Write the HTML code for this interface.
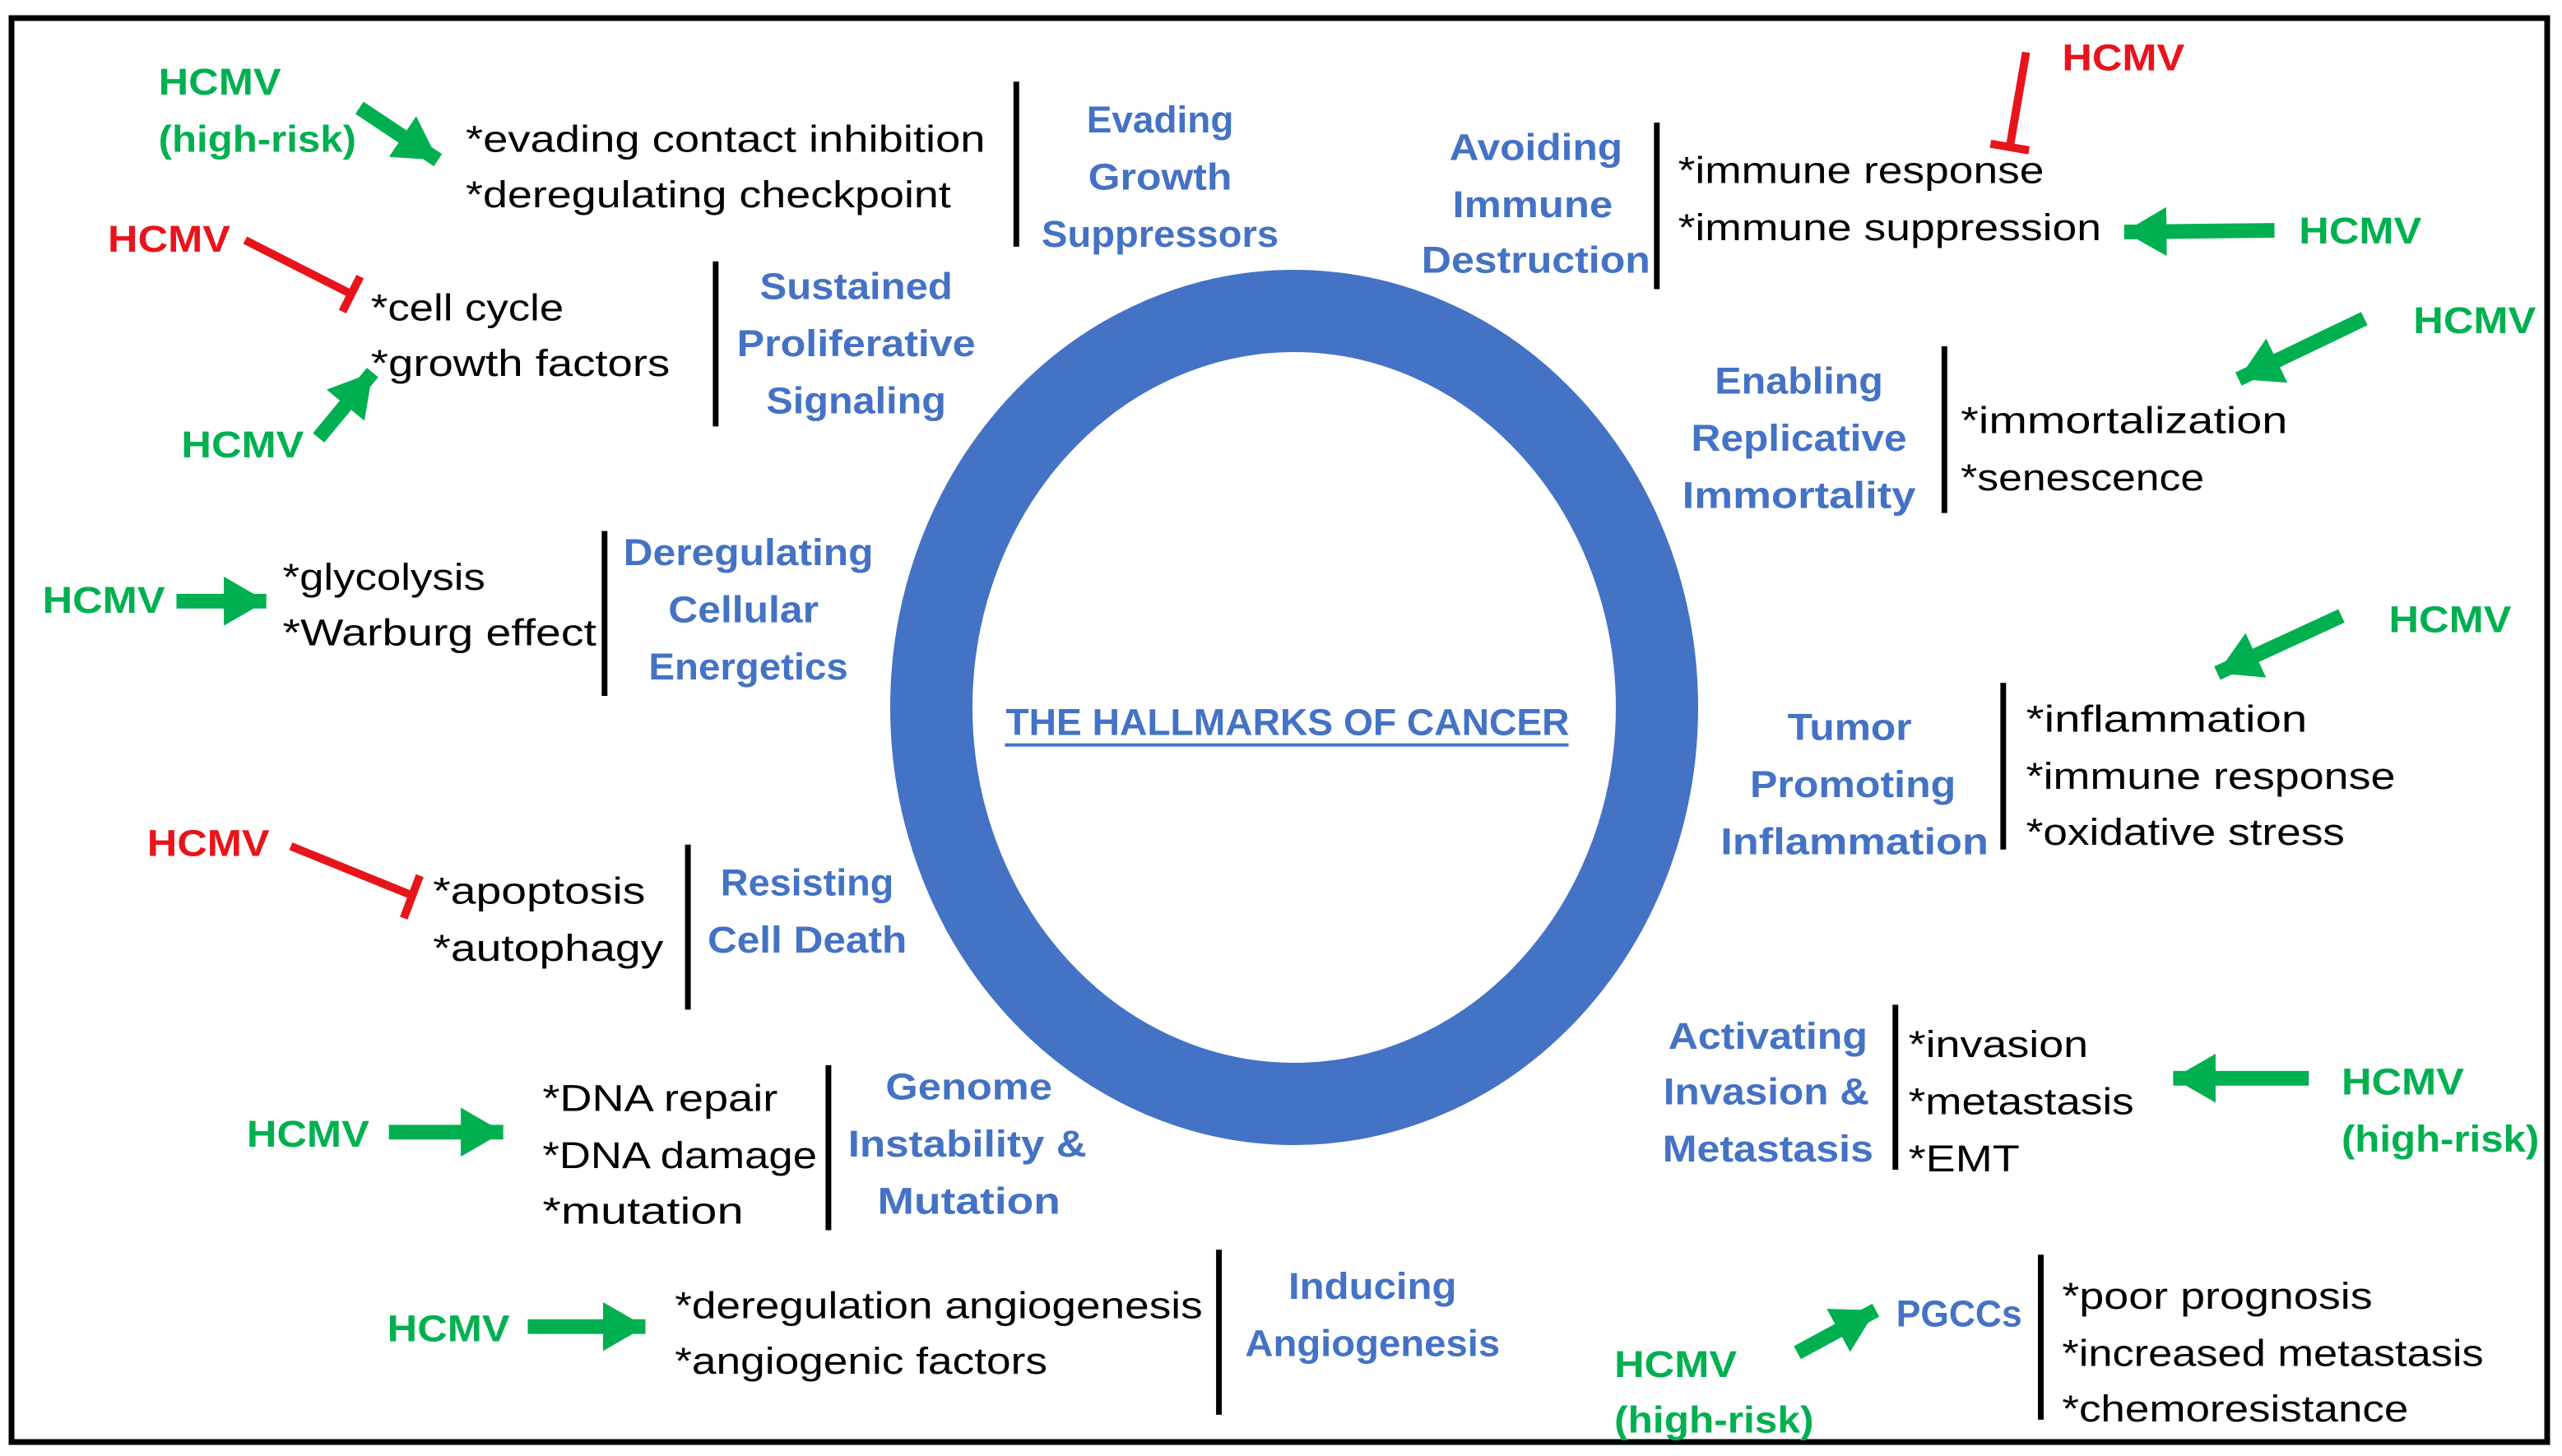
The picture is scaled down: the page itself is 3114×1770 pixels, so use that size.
<!DOCTYPE html>
<html><head><meta charset="utf-8"><style>
html,body{margin:0;padding:0;background:#fff;}
svg{display:block}
text{font-family:"Liberation Sans",sans-serif;}
.k{fill:#000;font-size:23px;}
.b{fill:#4472C4;font-size:23px;font-weight:bold;text-anchor:middle;}
.g{fill:#00B050;font-size:23px;font-weight:bold;}
.r{fill:#E8141B;font-size:23px;font-weight:bold;}
.bar{stroke:#000;stroke-width:3.5;}
.ga{stroke:#00B050;stroke-width:9;marker-end:url(#ah);}
.ri{stroke:#E8141B;stroke-width:5;}
</style></head><body>
<svg width="3114" height="1770" viewBox="0 0 1557 885" xmlns="http://www.w3.org/2000/svg">
<defs>
<marker id="ah" markerUnits="userSpaceOnUse" markerWidth="34" markerHeight="34" refX="26" refY="15" orient="auto">
<path d="M0,0 L26,15 L0,30 Z" fill="#00B050"/>
</marker>
</defs>
<rect x="0" y="0" width="1557" height="885" fill="#fff"/>
<rect x="7" y="11" width="1541" height="865.5" fill="none" stroke="#000" stroke-width="3.5"/>
<ellipse cx="786.5" cy="430" rx="220.5" ry="241" fill="none" stroke="#4472C4" stroke-width="50"/>
<g transform="scale(0.993)">
<text class="b" x="788" y="450" textLength="345" lengthAdjust="spacingAndGlyphs">THE HALLMARKS OF CANCER</text>
<line x1="615" y1="456" x2="960" y2="456" stroke="#4472C4" stroke-width="2"/>

<text class="g" x="97" y="58" textLength="75" lengthAdjust="spacingAndGlyphs">HCMV</text>
<text class="g" x="97" y="93" textLength="121" lengthAdjust="spacingAndGlyphs">(high-risk)</text>
<line class="ga" x1="220" y1="66" x2="268" y2="98"/>
<text class="k" x="285" y="93" textLength="318" lengthAdjust="spacingAndGlyphs">*evading contact inhibition</text>
<text class="k" x="285" y="127" textLength="297" lengthAdjust="spacingAndGlyphs">*deregulating checkpoint</text>
<line class="bar" x1="622" y1="50" x2="622" y2="151"/>
<text class="b" x="710" y="81" textLength="90" lengthAdjust="spacingAndGlyphs">Evading</text>
<text class="b" x="710" y="116" textLength="88" lengthAdjust="spacingAndGlyphs">Growth</text>
<text class="b" x="710" y="151" textLength="145" lengthAdjust="spacingAndGlyphs">Suppressors</text>

<text class="r" x="66" y="154" textLength="75" lengthAdjust="spacingAndGlyphs">HCMV</text>
<line class="ri" x1="150" y1="147" x2="215" y2="180"/>
<line class="ri" x1="220.4" y1="169.3" x2="209.6" y2="190.7"/>
<text class="k" x="227" y="196" textLength="118" lengthAdjust="spacingAndGlyphs">*cell cycle</text>
<text class="k" x="227" y="230" textLength="183" lengthAdjust="spacingAndGlyphs">*growth factors</text>
<line class="bar" x1="438" y1="160" x2="438" y2="261"/>
<text class="b" x="524" y="183" textLength="118" lengthAdjust="spacingAndGlyphs">Sustained</text>
<text class="b" x="524" y="218" textLength="146" lengthAdjust="spacingAndGlyphs">Proliferative</text>
<text class="b" x="524" y="253" textLength="110" lengthAdjust="spacingAndGlyphs">Signaling</text>
<text class="g" x="111" y="280" textLength="75" lengthAdjust="spacingAndGlyphs">HCMV</text>
<line class="ga" x1="195" y1="268" x2="228" y2="228"/>

<text class="g" x="26" y="375" textLength="75" lengthAdjust="spacingAndGlyphs">HCMV</text>
<line class="ga" x1="108" y1="368" x2="163" y2="368"/>
<text class="k" x="173" y="361" textLength="124" lengthAdjust="spacingAndGlyphs">*glycolysis</text>
<text class="k" x="173" y="395" textLength="192" lengthAdjust="spacingAndGlyphs">*Warburg effect</text>
<line class="bar" x1="370" y1="325" x2="370" y2="426"/>
<text class="b" x="458" y="346" textLength="153" lengthAdjust="spacingAndGlyphs">Deregulating</text>
<text class="b" x="455" y="381" textLength="92" lengthAdjust="spacingAndGlyphs">Cellular</text>
<text class="b" x="458" y="416" textLength="122" lengthAdjust="spacingAndGlyphs">Energetics</text>

<text class="r" x="90" y="524" textLength="75" lengthAdjust="spacingAndGlyphs">HCMV</text>
<line class="ri" x1="178" y1="518" x2="252" y2="548"/>
<line class="ri" x1="256.9" y1="536" x2="247.1" y2="562"/>
<text class="k" x="265" y="553" textLength="130" lengthAdjust="spacingAndGlyphs">*apoptosis</text>
<text class="k" x="265" y="588" textLength="141" lengthAdjust="spacingAndGlyphs">*autophagy</text>
<line class="bar" x1="421" y1="517" x2="421" y2="618"/>
<text class="b" x="494" y="548" textLength="106" lengthAdjust="spacingAndGlyphs">Resisting</text>
<text class="b" x="494" y="583" textLength="122" lengthAdjust="spacingAndGlyphs">Cell Death</text>

<text class="g" x="151" y="702" textLength="75" lengthAdjust="spacingAndGlyphs">HCMV</text>
<line class="ga" x1="238" y1="693" x2="308" y2="693"/>
<text class="k" x="332" y="680" textLength="144" lengthAdjust="spacingAndGlyphs">*DNA repair</text>
<text class="k" x="332" y="715" textLength="168" lengthAdjust="spacingAndGlyphs">*DNA damage</text>
<text class="k" x="332" y="749" textLength="123" lengthAdjust="spacingAndGlyphs">*mutation</text>
<line class="bar" x1="507" y1="652" x2="507" y2="753"/>
<text class="b" x="593" y="673" textLength="102" lengthAdjust="spacingAndGlyphs">Genome</text>
<text class="b" x="592" y="708" textLength="146" lengthAdjust="spacingAndGlyphs">Instability &amp;</text>
<text class="b" x="593" y="743" textLength="112" lengthAdjust="spacingAndGlyphs">Mutation</text>

<text class="g" x="237" y="821" textLength="75" lengthAdjust="spacingAndGlyphs">HCMV</text>
<line class="ga" x1="323" y1="812" x2="395" y2="812"/>
<text class="k" x="413" y="807" textLength="323" lengthAdjust="spacingAndGlyphs">*deregulation angiogenesis</text>
<text class="k" x="413" y="841" textLength="228" lengthAdjust="spacingAndGlyphs">*angiogenic factors</text>
<line class="bar" x1="746" y1="765" x2="746" y2="866"/>
<text class="b" x="840" y="795" textLength="103" lengthAdjust="spacingAndGlyphs">Inducing</text>
<text class="b" x="840" y="830" textLength="156" lengthAdjust="spacingAndGlyphs">Angiogenesis</text>

<text class="b" x="940" y="98" textLength="106" lengthAdjust="spacingAndGlyphs">Avoiding</text>
<text class="b" x="938" y="133" textLength="98" lengthAdjust="spacingAndGlyphs">Immune</text>
<text class="b" x="940" y="167" textLength="140" lengthAdjust="spacingAndGlyphs">Destruction</text>
<line class="bar" x1="1014" y1="75" x2="1014" y2="177"/>
<text class="k" x="1027" y="112" textLength="224" lengthAdjust="spacingAndGlyphs">*immune response</text>
<text class="k" x="1027" y="147" textLength="259" lengthAdjust="spacingAndGlyphs">*immune suppression</text>
<text class="r" x="1262" y="43" textLength="75" lengthAdjust="spacingAndGlyphs">HCMV</text>
<line class="ri" x1="1240" y1="32" x2="1230" y2="90"/>
<line class="ri" x1="1241.8" y1="92" x2="1218.2" y2="88"/>
<text class="g" x="1407" y="149" textLength="75" lengthAdjust="spacingAndGlyphs">HCMV</text>
<line class="ga" x1="1392" y1="141" x2="1300" y2="142"/>

<text class="b" x="1101" y="241" textLength="103" lengthAdjust="spacingAndGlyphs">Enabling</text>
<text class="b" x="1101" y="276" textLength="132" lengthAdjust="spacingAndGlyphs">Replicative</text>
<text class="b" x="1101" y="311" textLength="143" lengthAdjust="spacingAndGlyphs">Immortality</text>
<line class="bar" x1="1190" y1="212" x2="1190" y2="314"/>
<text class="k" x="1200" y="265" textLength="200" lengthAdjust="spacingAndGlyphs">*immortalization</text>
<text class="k" x="1200" y="300" textLength="149" lengthAdjust="spacingAndGlyphs">*senescence</text>
<text class="g" x="1477" y="204" textLength="75" lengthAdjust="spacingAndGlyphs">HCMV</text>
<line class="ga" x1="1447" y1="195" x2="1370" y2="232"/>

<text class="g" x="1462" y="387" textLength="75" lengthAdjust="spacingAndGlyphs">HCMV</text>
<line class="ga" x1="1433" y1="377" x2="1357" y2="412"/>
<text class="b" x="1132" y="453" textLength="76" lengthAdjust="spacingAndGlyphs">Tumor</text>
<text class="b" x="1134" y="488" textLength="126" lengthAdjust="spacingAndGlyphs">Promoting</text>
<text class="b" x="1135" y="523" textLength="164" lengthAdjust="spacingAndGlyphs">Inflammation</text>
<line class="bar" x1="1226" y1="418" x2="1226" y2="520"/>
<text class="k" x="1240" y="448" textLength="172" lengthAdjust="spacingAndGlyphs">*inflammation</text>
<text class="k" x="1240" y="483" textLength="226" lengthAdjust="spacingAndGlyphs">*immune response</text>
<text class="k" x="1240" y="517" textLength="195" lengthAdjust="spacingAndGlyphs">*oxidative stress</text>

<text class="b" x="1082" y="642" textLength="122" lengthAdjust="spacingAndGlyphs">Activating</text>
<text class="b" x="1081" y="676" textLength="126" lengthAdjust="spacingAndGlyphs">Invasion &amp;</text>
<text class="b" x="1082" y="711" textLength="129" lengthAdjust="spacingAndGlyphs">Metastasis</text>
<line class="bar" x1="1160" y1="615" x2="1160" y2="716"/>
<text class="k" x="1168" y="647" textLength="110" lengthAdjust="spacingAndGlyphs">*invasion</text>
<text class="k" x="1168" y="682" textLength="138" lengthAdjust="spacingAndGlyphs">*metastasis</text>
<text class="k" x="1168" y="717" textLength="68" lengthAdjust="spacingAndGlyphs">*EMT</text>
<text class="g" x="1433" y="670" textLength="75" lengthAdjust="spacingAndGlyphs">HCMV</text>
<text class="g" x="1433" y="705" textLength="121" lengthAdjust="spacingAndGlyphs">(high-risk)</text>
<line class="ga" x1="1413" y1="660" x2="1330" y2="660"/>

<text class="g" x="988" y="843" textLength="75" lengthAdjust="spacingAndGlyphs">HCMV</text>
<text class="g" x="988" y="877" textLength="122" lengthAdjust="spacingAndGlyphs">(high-risk)</text>
<line class="ga" x1="1100" y1="828" x2="1148" y2="802"/>
<text class="b" x="1199" y="812" textLength="77" lengthAdjust="spacingAndGlyphs">PGCCs</text>
<line class="bar" x1="1249" y1="768" x2="1249" y2="869"/>
<text class="k" x="1262" y="801" textLength="190" lengthAdjust="spacingAndGlyphs">*poor prognosis</text>
<text class="k" x="1262" y="836" textLength="258" lengthAdjust="spacingAndGlyphs">*increased metastasis</text>
<text class="k" x="1262" y="870" textLength="212" lengthAdjust="spacingAndGlyphs">*chemoresistance</text>
</g>
</svg>
</body></html>
